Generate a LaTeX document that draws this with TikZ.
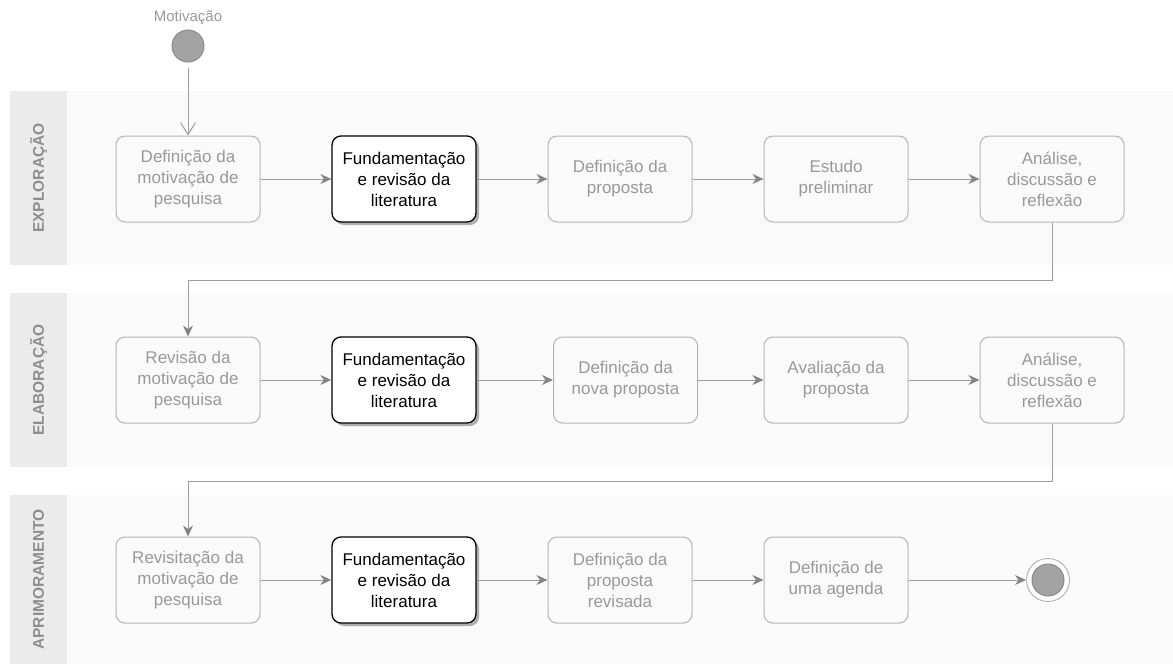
\documentclass[tikz,border=0pt]{standalone}
\usepackage{fontspec}
\setmainfont{Liberation Sans}
\usetikzlibrary{arrows.meta,shadows}
\definecolor{lanehead}{HTML}{EBEBEB}
\definecolor{lanebody}{HTML}{FAFAFA}
\definecolor{boxline}{HTML}{B5B5B5}
\definecolor{softtext}{HTML}{999999}
\definecolor{lanetext}{HTML}{8E8E8E}
\definecolor{wire}{HTML}{9E9E9E}
\definecolor{tipfill}{HTML}{858585}
\definecolor{dotfill}{HTML}{A3A3A3}
\definecolor{dotline}{HTML}{8A8A8A}
\begin{document}
\begin{tikzpicture}[x=1pt,y=-1pt,
  activity/.style={draw=boxline, line width=1pt, rounded corners=9pt,
    text=softtext, minimum width=144pt, minimum height=86pt, inner sep=0pt,
    align=center, font=\fontsize{17}{21}\selectfont},
  keyactivity/.style={activity, draw=black, line width=1.3pt, text=black, fill=white,
    drop shadow={shadow xshift=3pt, shadow yshift=-3pt, fill=black, opacity=0.3}},
  flow/.style={draw=wire, line width=1pt,
    -{Stealth[length=11pt, width=10pt, inset=3.5pt, color=tipfill]}},
  openflow/.style={draw=wire, line width=1pt, -{Straight Barb[length=12pt, width=15pt]}},
  lanelabel/.style={rotate=90, text=lanetext, font=\bfseries\fontsize{15.5}{18}\selectfont},
]
\useasboundingbox (0,0) rectangle (1173,664);

% swimlanes
\fill[lanebody] (10,91) rectangle (1173,265);
\fill[lanebody] (10,293) rectangle (1173,467);
\fill[lanebody] (10,495) rectangle (1173,664);
\fill[lanehead] (10,91) rectangle (67,265);
\fill[lanehead] (10,293) rectangle (67,467);
\fill[lanehead] (10,495) rectangle (67,664);
\node[lanelabel] (lane1) at (38.5,178) {EXPLORAÇÃO};
\node[lanelabel] (lane2) at (38.5,380) {ELABORAÇÃO};
\node[lanelabel] (lane3) at (38.5,579.5) {APRIMORAMENTO};

% start and end
\node[text=softtext, font=\fontsize{15}{18}\selectfont] (motlabel) at (188,18) {Motivação};
\node[circle, draw=dotline, fill=dotfill, line width=1pt, minimum size=32pt, inner sep=0pt] (start) at (188,46) {};
\node[circle, draw=boxline, fill=white, line width=1pt, minimum size=43pt, inner sep=0pt] (finish) at (1048,580) {};
\node[circle, draw=dotline, fill=dotfill, line width=1pt, minimum size=32pt, inner sep=0pt] (finishin) at (1048,580) {};

% row 1
\node[activity] (a1) at (188,179) {Definição da\\motivação de\\pesquisa};
\node[keyactivity] (a2) at (404,179) {Fundamentação\\e revisão da\\literatura};
\node[activity] (a3) at (620,179) {Definição da\\proposta};
\node[activity] (a4) at (836,179) {Estudo\\preliminar};
\node[activity] (a5) at (1052,179) {Análise,\\discussão e\\reflexão};

% row 2
\node[activity] (b1) at (188,380) {Revisão da\\motivação de\\pesquisa};
\node[keyactivity] (b2) at (404,380) {Fundamentação\\e revisão da\\literatura};
\node[activity] (b3) at (625.5,380) {Definição da\\nova proposta};
\node[activity] (b4) at (836,380) {Avaliação da\\proposta};
\node[activity] (b5) at (1052,380) {Análise,\\discussão e\\reflexão};

% row 3
\node[activity] (c1) at (188,580) {Revisitação da\\motivação de\\pesquisa};
\node[keyactivity] (c2) at (404,580) {Fundamentação\\e revisão da\\literatura};
\node[activity] (c3) at (620,580) {Definição da\\proposta\\revisada};
\node[activity] (c4) at (836,580) {Definição de\\uma agenda};

% connectors
\draw[openflow, shorten <=5pt] (start) -- (a1);
\draw[flow] (a1) -- (a2);
\draw[flow] (a2) -- (a3);
\draw[flow] (a3) -- (a4);
\draw[flow] (a4) -- (a5);
\draw[flow] (a5.south) -- ++(0,58) -| (b1.north);
\draw[flow] (b1) -- (b2);
\draw[flow] (b2) -- (b3);
\draw[flow] (b3) -- (b4);
\draw[flow] (b4) -- (b5);
\draw[flow] (b5.south) -- ++(0,58) -| (c1.north);
\draw[flow] (c1) -- (c2);
\draw[flow] (c2) -- (c3);
\draw[flow] (c3) -- (c4);
\draw[flow] (c4) -- (finish);
\end{tikzpicture}
\end{document}
